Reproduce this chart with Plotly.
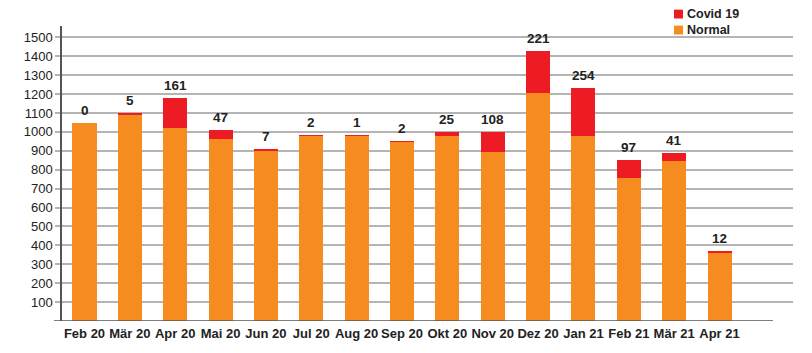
import plotly.graph_objects as go

categories = ["Feb 20", "Mär 20", "Apr 20", "Mai 20", "Jun 20", "Jul 20", "Aug 20", "Sep 20",
              "Okt 20", "Nov 20", "Dez 20", "Jan 21", "Feb 21", "Mär 21", "Apr 21"]
normal = [1045, 1093, 1020, 962, 900, 980, 982, 948, 976, 893, 1208, 980, 757, 845, 360]
covid = [0, 5, 161, 47, 7, 2, 1, 2, 25, 108, 221, 254, 97, 41, 12]
y_ticks = list(range(100, 1600, 100))
series_names = ["Covid 19", "Normal"]

totals = [n + c for n, c in zip(normal, covid)]
xpos = list(range(len(categories)))

ORANGE = "#F68B1F"
RED = "#ED1C24"
FONT = "Liberation Sans, Arial, sans-serif"
L, R, T, B = 62, 19, 26, 27
PW, PH = 812 - L - R, 353 - T - B

fig = go.Figure()
fig.add_trace(go.Bar(x=xpos, y=normal, name="Normal", showlegend=False,
                     marker=dict(color=ORANGE, line=dict(width=0))))
fig.add_trace(go.Bar(x=xpos, y=covid, name="Covid 19", showlegend=False,
                     marker=dict(color=RED, line=dict(width=0))))

annotations = []
for x, t, c in zip(xpos, totals, covid):
    annotations.append(dict(x=x, y=t, text=str(c), showarrow=False, yanchor="bottom", yshift=3,
                            font=dict(family=FONT, size=13.5, color="#222", weight="bold")))

# manual legend (pixel layout converted to paper coords)
def px(xp):
    return (xp - L) / PW

def py(yp):
    return (353 - B - yp) / PH

LEG_FS = 12.5
line_h = LEG_FS * 1.3
leg_center = 22
shapes = [dict(type="line", xref="paper", yref="y", x0=px(54), x1=px(773),
               y0=0, y1=0, line=dict(color="#555", width=1.5))]
for i, col in enumerate([RED, ORANGE]):
    yc = leg_center + (i - 0.5) * line_h
    shapes.append(dict(type="rect", xref="paper", yref="paper", x0=px(674), x1=px(683),
                       y0=py(yc - 4.5), y1=py(yc + 4.5), fillcolor=col, line=dict(width=0)))
annotations.append(dict(xref="paper", yref="paper", x=px(686), y=py(leg_center),
                        text="<br>".join(series_names), align="left",
                        showarrow=False, xanchor="left", yanchor="middle", borderpad=0,
                        font=dict(family=FONT, size=LEG_FS, color="#222", weight="bold")))

fig.update_layout(
    width=812, height=353,
    margin=dict(l=L, r=R, t=T, b=B),
    barmode="stack", bargap=0.47,
    plot_bgcolor="white", paper_bgcolor="white",
    font=dict(family=FONT, color="#222"),
    showlegend=False,
    xaxis=dict(range=[-0.496, 15.62], tickmode="array", tickvals=xpos, ticktext=categories,
               showgrid=False, showline=False, ticks="", zeroline=False, tickangle=0,
               ticklabelstandoff=3,
               tickfont=dict(family=FONT, size=13, color="#222", weight="bold")),
    yaxis=dict(range=[0, 1560], tickmode="array", tickvals=y_ticks,
               showgrid=True, gridcolor="#b4b4b4", gridwidth=1.5,
               ticks="outside", ticklen=5, tickcolor="#b4b4b4", tickwidth=1.5,
               showline=True, linecolor="#555", linewidth=1.5, zeroline=False,
               tickfont=dict(family=FONT, size=13, color="#222")),
    shapes=shapes,
    annotations=annotations,
)

fig.write_html("out.html")
